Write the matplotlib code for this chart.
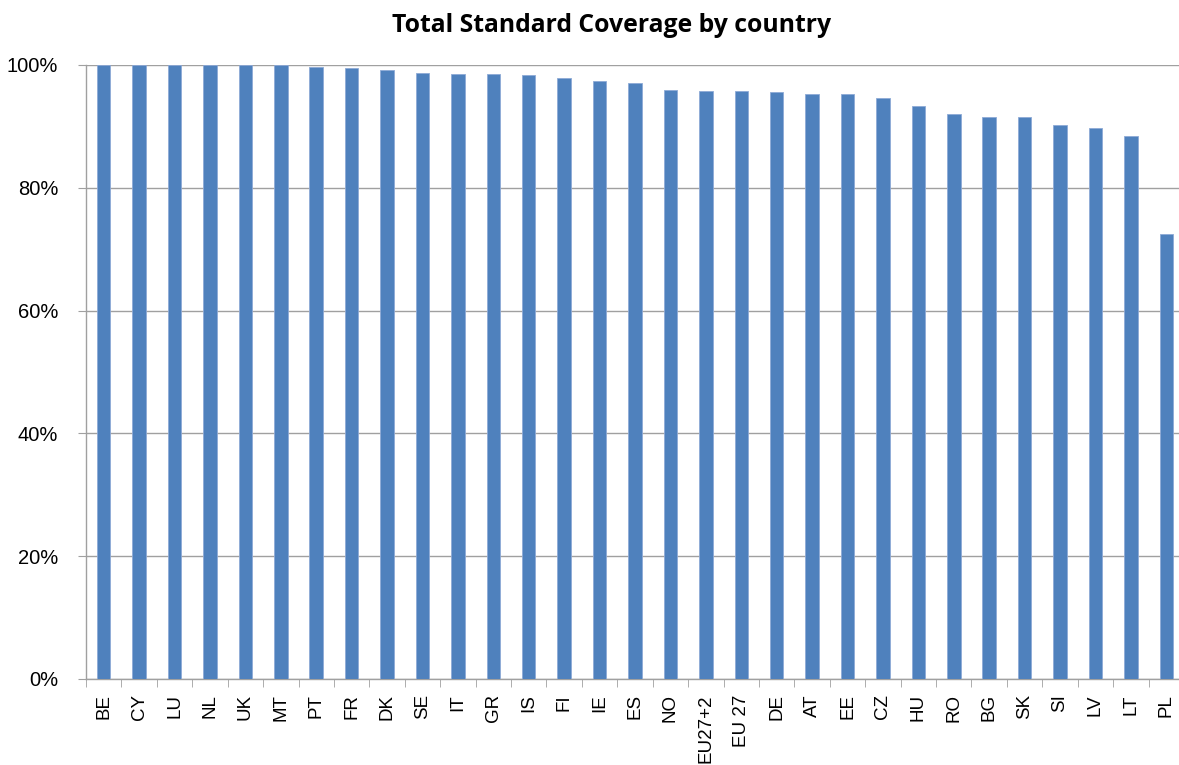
import matplotlib
matplotlib.use("Agg")
import matplotlib.pyplot as plt
from matplotlib.ticker import FuncFormatter, FixedLocator
import numpy as np

countries = ["BE", "CY", "LU", "NL", "UK", "MT", "PT", "FR", "DK", "SE", "IT",
             "GR", "IS", "FI", "IE", "ES", "NO", "EU27+2", "EU 27", "DE", "AT",
             "EE", "CZ", "HU", "RO", "BG", "SK", "SI", "LV", "LT", "PL"]
coverage = [100.0, 100.0, 100.0, 100.0, 100.0, 100.0, 99.7, 99.5, 99.2, 98.7, 98.5,
            98.5, 98.3, 97.9, 97.4, 97.1, 95.9, 95.8, 95.7, 95.6, 95.2,
            95.2, 94.7, 93.3, 92.0, 91.5, 91.5, 90.2, 89.7, 88.5, 72.5]

plt.rcParams["font.family"] = ["Liberation Sans", "DejaVu Sans"]

W, H = 1179, 765
fig = plt.figure(figsize=(W / 100, H / 100), dpi=100)
# plot area runs a little past the right edge, as in the original
ax = fig.add_axes([86 / W, 1 - 679 / H, 1098 / W, 614 / H])

x = np.arange(len(countries))
ax.bar(x, coverage, width=0.38, color="#4f81bd", edgecolor="#8eaad6", linewidth=0.6, zorder=3)

ax.set_xlim(-0.5, len(countries) - 0.5)
ax.set_ylim(0, 100)
ax.set_yticks(np.arange(0, 101, 20))
ax.yaxis.set_major_formatter(FuncFormatter(lambda v, p: f"{v:.0f}%"))
ax.yaxis.grid(True, color="#a0a0a0", linewidth=1.0, zorder=0)

ax.set_xticks(x)
ax.set_xticklabels(countries, rotation=90, fontsize=13.5)
ax.xaxis.set_minor_locator(FixedLocator(np.arange(-0.5, len(countries), 1)))
ax.tick_params(axis="x", which="major", length=0, pad=11)
ax.tick_params(axis="x", which="minor", length=6, color="#a0a0a0", direction="out")
ax.tick_params(axis="y", length=6, color="#a0a0a0", labelsize=14.5, pad=14)

for side in ["top", "right"]:
    ax.spines[side].set_visible(False)
for side in ["left", "bottom"]:
    ax.spines[side].set_color("#a0a0a0")
    ax.spines[side].set_linewidth(1.0)

fig.text(612 / W, 1 - 25 / H, "Total Standard Coverage by country",
         ha="center", va="center", fontsize=17.8, fontweight="bold",
         family=["Open Sans", "DejaVu Sans"])

fig.savefig("out.png", dpi=100)
